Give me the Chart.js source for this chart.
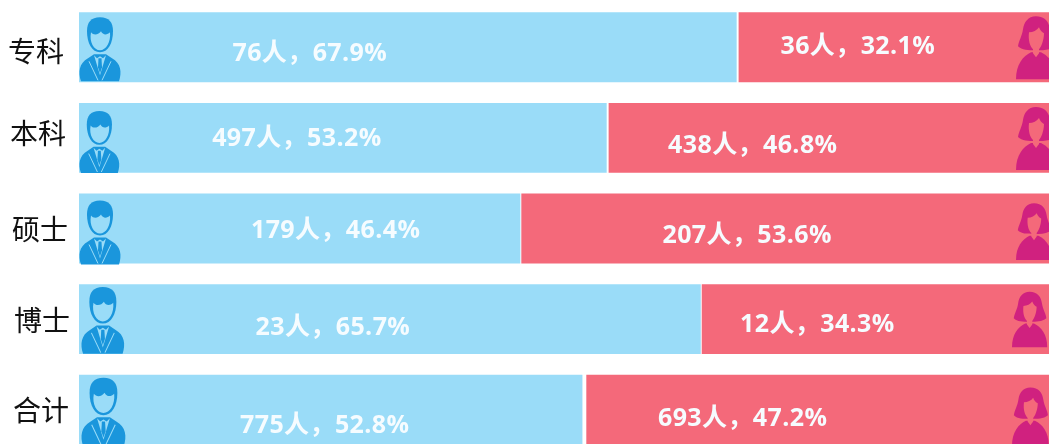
<!DOCTYPE html>
<html><head><meta charset="utf-8">
<style>html,body{margin:0;padding:0;background:#fff;overflow:hidden;width:1049px;height:444px}
#wrap{width:1049px;height:444px;overflow:hidden}canvas{display:block}</style>
<script src="https://cdn.jsdelivr.net/npm/chart.js@4"></script></head>
<body><div id="wrap"><canvas id="c" width="1049" height="455"></canvas></div>
<script>
const categories=['专科','本科','硕士','博士','合计'];
const maleCounts=[76,497,179,23,775];
const femaleCounts=[36,438,207,12,693];
const malePercents=['67.9','53.2','46.4','65.7','52.8'];
const femalePercents=['32.1','46.8','53.6','34.3','47.2'];
// where the colour split sits in the picture, as a share of the bar length
const maleBarEnd=[67.8,54.4,45.5,64.1,51.9];
const femaleBarStart=[68.0,54.6,45.6,64.2,52.3];
const barEnd=100;

// hand placement of text and icons, relative to each bar
const maleLabelOffset=[[-98,7],[-46,1],[36,2],[-57,9],[-6,16]];
const femaleLabelOffset=[[-36,0],[-76,8],[-38,7],[-58,6],[-75,9]];
const catOffset=[[1,4],[3,-5],[5,1],[7,1],[6,1]];
const manOffset=[[0,-30],[0,-27],[0,-28],[2,-32],[2,-32]];
const manScale=[1,0.97,1,1.04,1.07];
const womanOffset=[[-33,-33],[-33,-33],[-33,-27],[-37,-29],[-37,-24]];
const womanScale=[1,1,0.9,0.88,0.92];

function man(ctx,x,y,k){
  ctx.save();ctx.translate(x,y);ctx.scale(k,k);
  const dark='#1a96dc',bg='#9adcf8';
  ctx.fillStyle=dark;
  ctx.beginPath();ctx.moveTo(2,64);ctx.bezierCurveTo(-1,55,0,46,9,41);ctx.lineTo(15,37);ctx.lineTo(27,37);ctx.lineTo(33,41);
  ctx.bezierCurveTo(42,46,43,55,40,64);ctx.closePath();ctx.fill();
  ctx.fillStyle=bg;ctx.beginPath();ctx.moveTo(15,38);ctx.lineTo(21,58);ctx.lineTo(27,38);ctx.lineTo(24,41);ctx.lineTo(21,39);ctx.lineTo(18,41);ctx.closePath();ctx.fill();
  ctx.fillStyle=dark;ctx.beginPath();ctx.moveTo(19.5,41);ctx.lineTo(22.5,41);ctx.lineTo(23,50);ctx.lineTo(21,56);ctx.lineTo(19,50);ctx.closePath();ctx.fill();
  ctx.strokeStyle=bg;ctx.lineWidth=1;ctx.beginPath();ctx.moveTo(10,44);ctx.lineTo(19,63);ctx.moveTo(32,44);ctx.lineTo(23,63);ctx.stroke();
  ctx.fillStyle=dark;ctx.beginPath();ctx.moveTo(21,0);ctx.bezierCurveTo(30,0,34,5,34,14);ctx.bezierCurveTo(34,26,29,35,21,35);ctx.bezierCurveTo(13,35,8,26,8,14);ctx.bezierCurveTo(8,5,12,0,21,0);ctx.closePath();ctx.fill();
  ctx.fillStyle=bg;ctx.beginPath();ctx.moveTo(12,15);ctx.bezierCurveTo(15,19,20,17,22,14);ctx.bezierCurveTo(24,18,28,18,31,15);
  ctx.bezierCurveTo(32,25,27,33,21,33);ctx.bezierCurveTo(15,33,10,25,12,15);ctx.closePath();ctx.fill();
  ctx.restore();
}
function woman(ctx,x,y,k){
  ctx.save();ctx.translate(x,y);ctx.scale(k,k);
  const dark='#d0217f',bg='#f4697a';
  ctx.fillStyle=dark;
  ctx.beginPath();ctx.moveTo(20,2);ctx.bezierCurveTo(29,2,33,8,34,15);ctx.bezierCurveTo(35,22,39,28,39,32);ctx.bezierCurveTo(34,36,28,36,20,36);
  ctx.bezierCurveTo(12,36,6,36,2,32);ctx.bezierCurveTo(3,26,6,22,7,15);ctx.bezierCurveTo(8,8,12,2,20,2);ctx.closePath();ctx.fill();
  ctx.beginPath();ctx.moveTo(0,65);ctx.bezierCurveTo(0,50,7,42,15,38);ctx.lineTo(25,38);ctx.bezierCurveTo(33,42,40,50,40,65);ctx.closePath();ctx.fill();
  ctx.fillStyle=bg;ctx.beginPath();ctx.moveTo(13,18);ctx.bezierCurveTo(17,18,21,16,23,13);ctx.bezierCurveTo(24,16,26,18,28,19);
  ctx.bezierCurveTo(28,26,25,33,23,35);ctx.lineTo(23,39);ctx.lineTo(20,43);ctx.lineTo(17,39);ctx.lineTo(17,35);ctx.bezierCurveTo(14,32,12,26,13,18);ctx.closePath();ctx.fill();
  ctx.restore();
}
const decor={id:'decor',
  beforeDraw(chart){
    chart.scales.y.getLabelItems().forEach((it,i)=>{
      if(it._moved)return;it._moved=true;
      const t=it.options.translation;it.options.translation=[t[0]+catOffset[i][0],t[1]+catOffset[i][1]];
    });
  },
  afterDatasetsDraw(chart){
    const {ctx,scales:{x,y}}=chart;
    categories.forEach((c,i)=>{
      const cy=y.getPixelForValue(i);
      man(ctx,x.getPixelForValue(0)+manOffset[i][0],cy+manOffset[i][1],manScale[i]);
      woman(ctx,x.getPixelForValue(barEnd)+womanOffset[i][0],cy+womanOffset[i][1],womanScale[i]);
      ctx.save();
      ctx.fillStyle='#f6fcff';ctx.textAlign='center';ctx.textBaseline='middle';
      ctx.font='bold 25px "Open Sans","Noto Sans CJK SC",sans-serif';
      ctx.letterSpacing='0.4px';
      const mc=(x.getPixelForValue(0)+x.getPixelForValue(maleBarEnd[i]))/2;
      const fc=(x.getPixelForValue(femaleBarStart[i])+x.getPixelForValue(barEnd))/2;
      ctx.fillText(maleCounts[i]+'人，'+malePercents[i]+'%',mc+maleLabelOffset[i][0],cy+maleLabelOffset[i][1]);
      ctx.fillText(femaleCounts[i]+'人，'+femalePercents[i]+'%',fc+femaleLabelOffset[i][0],cy+femaleLabelOffset[i][1]);
      ctx.restore();
    });
  }
};
new Chart(document.getElementById('c'),{
  type:'bar',
  data:{labels:categories,datasets:[
    {label:'男',data:maleBarEnd.map(v=>[0,v]),backgroundColor:'#9adcf8',borderSkipped:false,barPercentage:1,categoryPercentage:0.772},
    {label:'女',data:femaleBarStart.map(v=>[v,barEnd]),backgroundColor:'#f4697a',borderSkipped:false,barPercentage:1,categoryPercentage:0.772}
  ]},
  options:{indexAxis:'y',responsive:false,animation:false,
    layout:{padding:{left:0,right:0,top:2,bottom:0}},
    plugins:{legend:{display:false},tooltip:{enabled:false}},
    scales:{
      x:{min:0,max:barEnd,display:false},
      y:{stacked:true,grid:{display:false},border:{display:false},
         ticks:{color:'#111',font:{family:'"Noto Sans CJK SC",sans-serif',size:28},padding:8},
         afterFit(s){s.width=79;s.paddingTop=0;s.paddingBottom=0;}}
    }
  },
  plugins:[decor]
});
</script></body></html>
